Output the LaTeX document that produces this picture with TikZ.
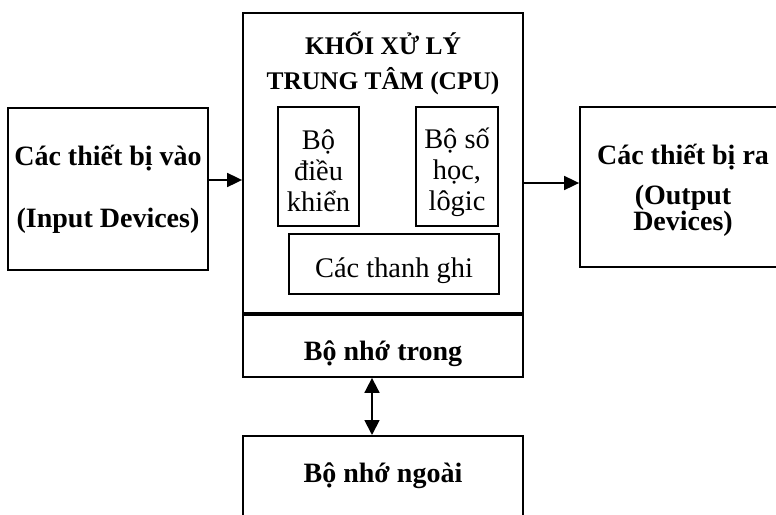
\documentclass[tikz,border=0pt]{standalone}
\usepackage{fontspec}
\setmainfont{Liberation Serif}
\usetikzlibrary{arrows.meta}

\begin{document}
\begin{tikzpicture}[x=0.5pt, y=-0.5pt,
  box/.style={draw, line width=0.9pt, inner sep=0pt, align=center},
  bigtext/.style={font=\fontsize{14}{15.5}\selectfont\bfseries},
  unit/.style={box, font=\fontsize{14.2}{15.5}\selectfont},
  arr/.style={line width=0.9pt, -{Triangle[length=7.5pt, width=7pt]}},
  dblarr/.style={line width=0.9pt, {Triangle[length=7.5pt, width=7.5pt]}-{Triangle[length=7.5pt, width=7.5pt]}},
]

\path[use as bounding box, clip] (0,0) rectangle (776,514);

\node[box, bigtext, minimum width=100pt, minimum height=81pt] (input) at (108,189)
  {Các thiết bị vào\\[15.5pt](Input Devices)};

\node[box, minimum width=140pt, minimum height=151pt] (cpu) at (383,164) {};
\node[align=center, font=\fontsize{12.7}{17.5}\selectfont\bfseries] (title) at (383,63)
  {KHỐI XỬ LÝ\\TRUNG TÂM (CPU)};

\node[unit, minimum width=40.5pt, minimum height=59.5pt] (ctrl) at (318.5,166.5)
  {\rule{0pt}{14.5pt}Bộ\\điều\\khiển};
\node[unit, minimum width=41pt, minimum height=59.5pt] (alu) at (457,166.5)
  {\rule{0pt}{16pt}Bộ số\\học,\\lôgic};
\node[unit, minimum width=105pt, text height=21.5pt, text depth=8.5pt] (regs) at (394,264)
  {Các thanh ghi};

\node[box, bigtext, minimum width=140pt, text height=22.5pt, text depth=8.5pt] (ram) at (383,346)
  {Bộ nhớ trong};
\draw[line width=1.8pt] (ram.north west) -- (ram.north east);

\node[box, bigtext, minimum width=140pt, text height=23.5pt, text depth=26.5pt, anchor=north]
  (ext) at (383,435) {Bộ nhớ ngoài};

\node[box, font=\fontsize{14}{13}\selectfont\bfseries, minimum width=103pt, minimum height=80pt]
  (out) at (683,187) {\rule{0pt}{13.5pt}Các thiết bị ra\\[7pt](Output\\Devices)};

\draw[arr] ([yshift=4.5pt]input.east) -- ([yshift=4.5pt]input.east -| cpu.west);
\draw[arr] ([yshift=2pt]out.west -| cpu.east) -- ([yshift=2pt]out.west);
\draw[dblarr] ([xshift=-5.5pt]ram.south) -- ([xshift=-5.5pt]ext.north);

\end{tikzpicture}
\end{document}
